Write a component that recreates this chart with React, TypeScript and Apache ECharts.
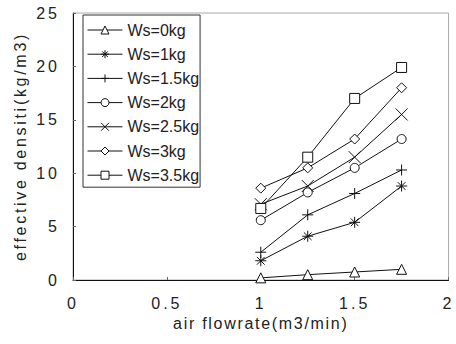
import React, { useEffect, useRef } from "react";
import * as echarts from "echarts";

const flowrates = [1, 1.25, 1.5, 1.75];
const seriesNames = ["Ws=0kg", "Ws=1kg", "Ws=1.5kg", "Ws=2kg", "Ws=2.5kg", "Ws=3kg", "Ws=3.5kg"];
const ws0 = [0.2, 0.5, 0.75, 1.0];
const ws1 = [1.8, 4.1, 5.4, 8.8];
const ws15 = [2.6, 6.1, 8.1, 10.3];
const ws2 = [5.6, 8.2, 10.5, 13.2];
const ws25 = [7.1, 8.8, 11.5, 15.5];
const ws3 = [8.6, 10.5, 13.2, 18.0];
const ws35 = [6.7, 11.5, 17.0, 19.9];
const allValues = [ws0, ws1, ws15, ws2, ws25, ws3, ws35];

const symbols = [
  "triangle",
  "path://M0,5 L10,5 M5,0 L5,10 M1.5,1.5 L8.5,8.5 M8.5,1.5 L1.5,8.5",
  "path://M0,5 L10,5 M5,0 L5,10",
  "circle",
  "path://M0,0 L10,10 M10,0 L0,10",
  "diamond",
  "rect",
];
const symbolSizes = [10, 11, 11, 9, 12, 10, 10];

const BASE = "'Liberation Sans', Arial, sans-serif";
const TICK_FONT = "'TickF', " + BASE;
const XNAME_FONT = "'XNameF', " + BASE;
const YNAME_FONT = "'YNameF', " + BASE;
const TXT = "#222";

const css = `
#chart text[style*="TickF"], #chart text[font-family*="TickF"] { letter-spacing: 3px; }
#chart text[style*="XNameF"], #chart text[font-family*="XNameF"] { letter-spacing: 1.7px; }
#chart text[style*="YNameF"], #chart text[font-family*="YNameF"] { letter-spacing: 2.7px; }
`;

export default function App() {
  const ref = useRef<HTMLDivElement>(null);
  useEffect(() => {
    if (!ref.current) return;
    const chart = echarts.init(ref.current, null, { renderer: "svg" });
    chart.setOption({
      animation: false,
      backgroundColor: "#fff",
      textStyle: { fontFamily: BASE, color: TXT },
      grid: {
        left: 73,
        right: 4,
        top: 13,
        bottom: 64,
        show: true,
        borderColor: "#aaa",
        borderWidth: 1,
        backgroundColor: "transparent",
      },
      legend: {
        orient: "vertical",
        left: 83,
        top: 15,
        data: seriesNames,
        backgroundColor: "#fff",
        borderColor: "#333",
        borderWidth: 1,
        padding: [7, 1, 4, 4],
        itemWidth: 35,
        itemHeight: 10,
        itemGap: 8.2,
        itemStyle: { borderWidth: 1, borderColor: "#111", color: "#fff" },
        lineStyle: { width: 1, color: "#111" },
        textStyle: { fontFamily: BASE, fontSize: 16, color: TXT },
      },
      xAxis: {
        type: "value",
        min: 0,
        max: 2,
        interval: 0.5,
        name: "air flowrate(m3/min)",
        nameLocation: "middle",
        nameGap: 33,
        nameTextStyle: { fontFamily: XNAME_FONT, fontSize: 16, color: TXT },
        axisLine: { lineStyle: { color: "#111", width: 1 } },
        axisTick: { show: true, inside: true, length: 3, lineStyle: { color: "#666" } },
        axisLabel: { fontFamily: TICK_FONT, fontSize: 16, color: TXT, margin: 15 },
        splitLine: { show: false },
      },
      yAxis: {
        type: "value",
        min: 0,
        max: 25,
        interval: 5,
        name: "effective densiti(kg/m3)",
        nameLocation: "middle",
        nameGap: 45,
        nameTextStyle: { fontFamily: YNAME_FONT, fontSize: 16, color: TXT },
        axisLine: { show: true, lineStyle: { color: "#111", width: 1 } },
        axisTick: { show: true, inside: true, length: 3, lineStyle: { color: "#666" } },
        axisLabel: { fontFamily: TICK_FONT, fontSize: 16, color: TXT, margin: 13 },
        splitLine: { show: false },
      },
      series: allValues.map((vals, i) => ({
        name: seriesNames[i],
        type: "line",
        data: vals.map((v, j) => [flowrates[j], v]),
        symbol: symbols[i],
        symbolSize: symbolSizes[i],
        showAllSymbol: true,
        lineStyle: { color: "#111", width: 1 },
        itemStyle: { color: "#fff", borderColor: "#111", borderWidth: 1 },
        emphasis: { disabled: true },
      })),
    });
    return () => chart.dispose();
  }, []);
  return (
    <>
      <style>{css}</style>
      <div id="chart" ref={ref} style={{ width: 456, height: 344, position: "absolute", left: 0, top: 0 }} />
    </>
  );
}
